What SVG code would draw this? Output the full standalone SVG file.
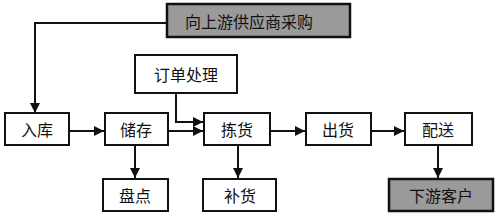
<svg xmlns="http://www.w3.org/2000/svg" width="500" height="217" viewBox="0 0 500 217">
<defs>
<style>
.box{fill:#fff;stroke:#111;stroke-width:2}
.gray{fill:#9a9a9a;stroke:#111;stroke-width:2.5}
.t{font-family:"Noto Sans CJK SC","Noto Sans CJK TC",sans-serif;font-size:16px;fill:#111;text-anchor:middle;dominant-baseline:central}
.c{fill:none;stroke:#111;stroke-width:2}
</style>
<marker id="a" viewBox="0 0 10 10" refX="10" refY="5" markerWidth="5" markerHeight="5" orient="auto" markerUnits="strokeWidth">
<path d="M0,0L10,5L0,10z" fill="#111"/>
</marker>
</defs>
<rect width="500" height="217" fill="#fff"/>
<g id="connectors">
<path class="c" d="M167,23H35V113" marker-end="url(#a)"/>
<path class="c" d="M176,93V122H203" marker-end="url(#a)"/>
<path class="c" d="M69,131H104" marker-end="url(#a)"/>
<path class="c" d="M168,131H203" marker-end="url(#a)"/>
<path class="c" d="M270,131H305" marker-end="url(#a)"/>
<path class="c" d="M371,131H404" marker-end="url(#a)"/>
<path class="c" d="M135,145V178" marker-end="url(#a)"/>
<path class="c" d="M238,145V178" marker-end="url(#a)"/>
<path class="c" d="M438,145V178" marker-end="url(#a)"/>
</g>
<g id="upstream"><rect class="gray" x="167" y="4" width="183" height="33"/><text class="t" x="249" y="21">向上游供应商采购</text></g>
<g id="order"><rect class="box" x="135" y="55" width="102" height="38"/><text class="t" x="186" y="74">订单处理</text></g>
<g id="inbound"><rect class="box" x="5" y="113" width="64" height="32"/><text class="t" x="37" y="129">入库</text></g>
<g id="storage"><rect class="box" x="105" y="113" width="63" height="32"/><text class="t" x="136" y="129">储存</text></g>
<g id="picking"><rect class="box" x="204" y="113" width="66" height="32"/><text class="t" x="237" y="129">拣货</text></g>
<g id="shipping"><rect class="box" x="306" y="113" width="65" height="32"/><text class="t" x="338" y="129">出货</text></g>
<g id="delivery"><rect class="box" x="405" y="113" width="67" height="32"/><text class="t" x="438" y="129">配送</text></g>
<g id="stocktake"><rect class="box" x="103" y="179" width="65" height="32"/><text class="t" x="135" y="195">盘点</text></g>
<g id="replenish"><rect class="box" x="203" y="179" width="73" height="32"/><text class="t" x="240" y="195">补货</text></g>
<g id="downstream"><rect class="gray" x="389" y="179" width="104" height="32"/><text class="t" x="441" y="195">下游客户</text></g>
</svg>
